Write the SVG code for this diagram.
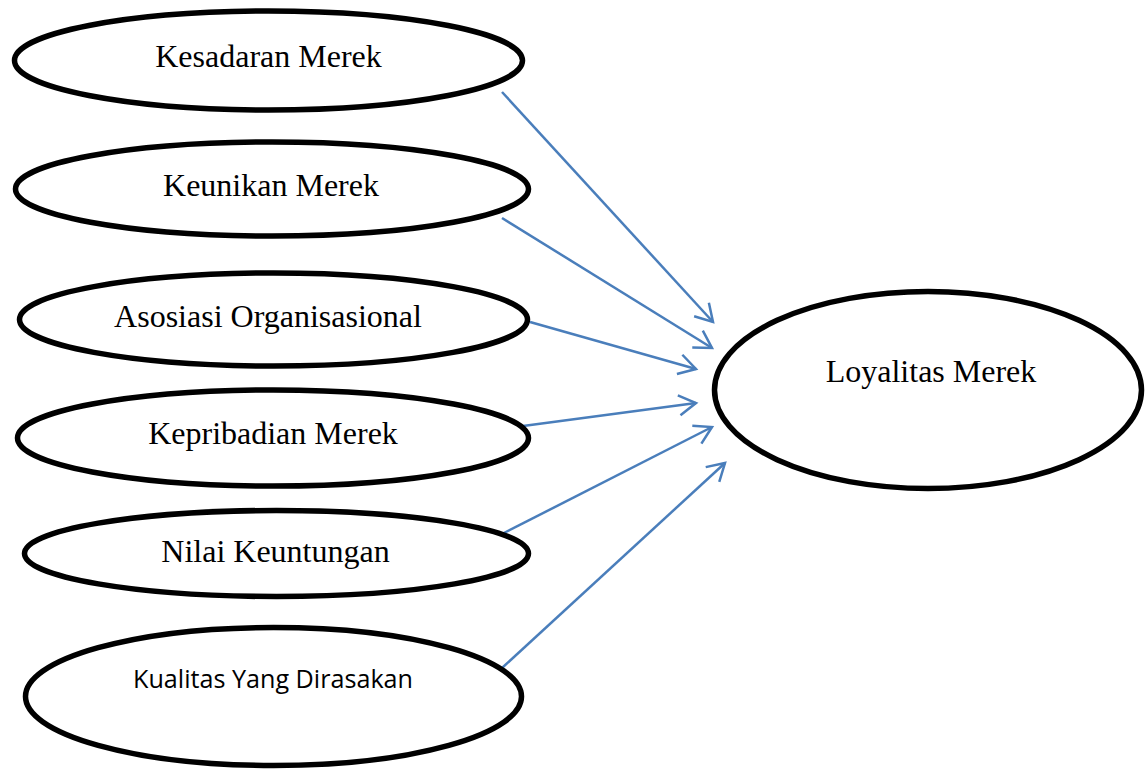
<svg xmlns="http://www.w3.org/2000/svg" width="1145" height="769" viewBox="0 0 1145 769">
<style>
.node ellipse{fill:#fff;stroke:#000;stroke-width:5.5}
.t{font-family:"Liberation Serif","Times New Roman",serif;font-size:32px;fill:#000;text-anchor:middle}
.s{font-family:"Open Sans","Noto Sans",sans-serif;font-size:25px;fill:#000;text-anchor:middle}
.conn line{stroke:#4a7ebb;stroke-width:2.5;fill:none;marker-end:url(#arr)}
</style>
<defs>
<marker id="arr" markerUnits="userSpaceOnUse" viewBox="-22 -13 26 26" refX="0" refY="0" markerWidth="26" markerHeight="26" orient="auto">
<path d="M-17,-10 L0,0 L-17,10" fill="none" stroke="#4a7ebb" stroke-width="2.5"/>
</marker>
</defs>
<rect width="1145" height="769" fill="#fff"/>
<g id="connectors" class="conn">
<line x1="502" y1="92" x2="713" y2="322"/>
<line x1="502" y1="218" x2="712" y2="348"/>
<line x1="530" y1="322" x2="696" y2="369"/>
<line x1="523" y1="426" x2="696" y2="403"/>
<line x1="502" y1="534" x2="712" y2="427"/>
<line x1="502" y1="668" x2="725" y2="463"/>
</g>
<g id="kesadaran" class="node">
<ellipse cx="268.5" cy="60.5" rx="254" ry="49.5"/>
<text class="t" x="268.5" y="67">Kesadaran Merek</text>
</g>
<g id="keunikan" class="node">
<ellipse cx="272" cy="189" rx="256.5" ry="47"/>
<text class="t" x="271" y="196">Keunikan Merek</text>
</g>
<g id="asosiasi" class="node">
<ellipse cx="273.5" cy="319.5" rx="254" ry="46.5"/>
<text class="t" x="268" y="327">Asosiasi Organisasional</text>
</g>
<g id="kepribadian" class="node">
<ellipse cx="273" cy="438" rx="255.5" ry="48"/>
<text class="t" x="273" y="444">Kepribadian Merek</text>
</g>
<g id="nilai" class="node">
<ellipse cx="276.5" cy="553.5" rx="252" ry="43"/>
<text class="t" x="275.5" y="562">Nilai Keuntungan</text>
</g>
<g id="kualitas" class="node">
<ellipse cx="273.5" cy="696.5" rx="248" ry="69"/>
<text class="s" x="273" y="688" textLength="280" lengthAdjust="spacingAndGlyphs">Kualitas Yang Dirasakan</text>
</g>
<g id="loyalitas" class="node">
<ellipse cx="928" cy="390" rx="213.5" ry="98.5"/>
<text class="t" x="931" y="382">Loyalitas Merek</text>
</g>
</svg>
